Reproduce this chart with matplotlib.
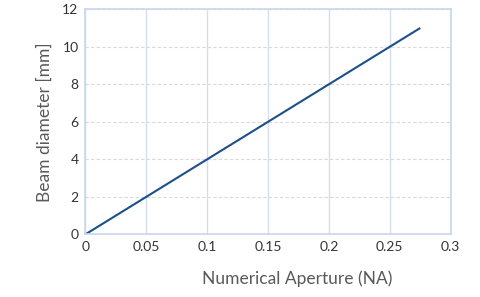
import matplotlib
matplotlib.use('Agg')
import matplotlib.pyplot as plt

plt.rcParams['font.family'] = ['Lato', 'DejaVu Sans']

# numerical aperture vs beam diameter
na = [0.0, 0.05, 0.1, 0.15, 0.2, 0.25, 0.275]
beam_mm = [0.0, 2.0, 4.0, 6.0, 8.0, 10.0, 11.0]

x_ticks = [0, 0.05, 0.1, 0.15, 0.2, 0.25, 0.3]
x_ticklabels = ['0', '0.05', '0.1', '0.15', '0.2', '0.25', '0.3']
y_ticks = [0, 2, 4, 6, 8, 10, 12]

text_col = '#595959'
spine_col = '#c9d6ee'

fig = plt.figure(figsize=(4.8, 2.97), dpi=100)
ax = fig.add_axes([0.178, 0.211, 0.761, 0.758])

ax.plot(na, beam_mm, color='#1d4f8a', linewidth=1.5, solid_capstyle='butt')

ax.set_xlim(0, 0.3)
ax.set_ylim(0, 12)
ax.set_xticks(x_ticks)
ax.set_xticklabels(x_ticklabels)
ax.set_yticks(y_ticks)

ax.xaxis.grid(True, color='#d5ddec', linewidth=1, linestyle='-')
ax.yaxis.grid(True, color='#d9d9d9', linewidth=0.8, linestyle=(0, (3, 2)))
ax.set_axisbelow(True)

for s in ax.spines.values():
    s.set_color(spine_col)
    s.set_linewidth(1.2)

ax.tick_params(length=0, labelsize=10, labelcolor='#333333', pad=5)

# x label sits a bit right of the axes centre in the original
ax.set_xlabel('Numerical Aperture (NA)', fontsize=12.5, color=text_col, labelpad=12, x=0.58)
ax.set_ylabel('Beam diameter [mm]', fontsize=12.5, color=text_col, labelpad=7)

fig.savefig('out.png', dpi=100)
